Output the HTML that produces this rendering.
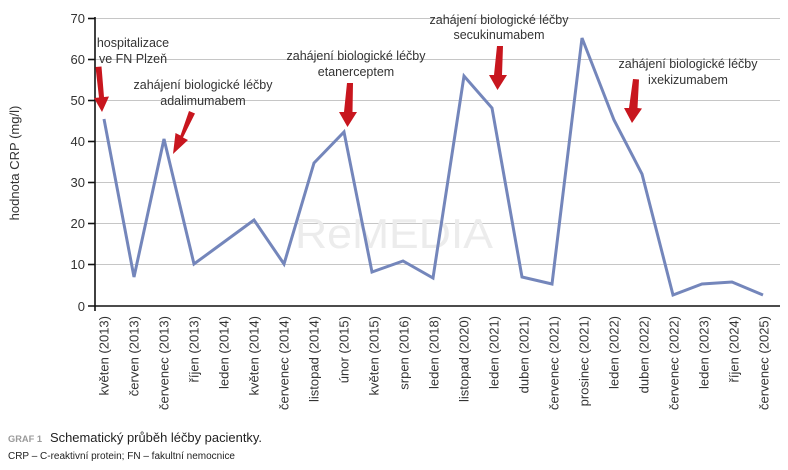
<!DOCTYPE html>
<html><head><meta charset="utf-8"><style>
html,body{margin:0;padding:0;background:#fff;}
svg{display:block;}
text{font-family:"Liberation Sans",sans-serif;}
</style></head><body>
<svg width="788" height="470" viewBox="0 0 788 470" xmlns="http://www.w3.org/2000/svg">
<rect width="788" height="470" fill="#fff"/>
<!-- gridlines -->
<g stroke="#c6c6c6" stroke-width="1">
<line x1="95" y1="18.5" x2="780" y2="18.5"/>
<line x1="95" y1="59.5" x2="780" y2="59.5"/>
<line x1="95" y1="100.5" x2="780" y2="100.5"/>
<line x1="95" y1="141.5" x2="780" y2="141.5"/>
<line x1="95" y1="182.5" x2="780" y2="182.5"/>
<line x1="95" y1="223.5" x2="780" y2="223.5"/>
<line x1="95" y1="264.5" x2="780" y2="264.5"/>
</g>
<!-- watermark -->
<text x="295" y="248" font-size="42" fill="#ececec" textLength="198" lengthAdjust="spacingAndGlyphs">ReMEDIA</text>
<!-- axes -->
<g stroke="#111" stroke-width="1.6">
<line x1="95" y1="17" x2="95" y2="311"/>
<line x1="88" y1="306" x2="780" y2="306"/>
<line x1="88" y1="18.5" x2="95" y2="18.5"/>
<line x1="88" y1="59.5" x2="95" y2="59.5"/>
<line x1="88" y1="100.5" x2="95" y2="100.5"/>
<line x1="88" y1="141.5" x2="95" y2="141.5"/>
<line x1="88" y1="182.5" x2="95" y2="182.5"/>
<line x1="88" y1="223.5" x2="95" y2="223.5"/>
<line x1="88" y1="264.5" x2="95" y2="264.5"/>
</g>
<g font-size="13" fill="#333" text-anchor="end">
<text x="85" y="23">70</text>
<text x="85" y="64">60</text>
<text x="85" y="105">50</text>
<text x="85" y="146">40</text>
<text x="85" y="187">30</text>
<text x="85" y="228">20</text>
<text x="85" y="269">10</text>
<text x="85" y="311">0</text>
</g>
<text transform="translate(19,163) rotate(-90)" font-size="13" fill="#333" text-anchor="middle">hodnota CRP (mg/l)</text>
<!-- series -->
<polyline fill="none" stroke="#7486bb" stroke-width="3" stroke-linejoin="miter" points="104,119 134,277 164,139 194,264 224,242 254,220 284,264 314,163 344,132 372,272 403,261 433,278 464,76 492,108 522,277 552,284 582,38 614,120 642,174 673,295 702,284 732,282 763,295"/>
<!-- arrows -->
<g fill="#c8161e">
<polygon points="95.5,67 101.5,66.5 104,97 109,96.5 102,112 94,98 99,97.5"/>
<polygon points="189,111 195,113.5 183,137.5 188,140 173,154 175.5,133 180.5,135.5"/>
<polygon points="347,83 353,83 352.5,112 357,112 347.5,127 339,112 344,112"/>
<polygon points="497,46 503,46 502,75 507,75 497.5,90 489,75 494,75"/>
<polygon points="633,79 639,79.5 637.5,108 642,108.5 632,123 624,108 629,108"/>
</g>
<!-- annotations -->
<g font-size="12.5" fill="#333" text-anchor="middle">
<text x="133" y="47">hospitalizace</text>
<text x="133" y="63">ve FN Plzeň</text>
<text x="203" y="89">zahájení biologické léčby</text>
<text x="203" y="105">adalimumabem</text>
<text x="356" y="60">zahájení biologické léčby</text>
<text x="356" y="76">etanerceptem</text>
<text x="499" y="24">zahájení biologické léčby</text>
<text x="499" y="39">secukinumabem</text>
<text x="688" y="68">zahájení biologické léčby</text>
<text x="688" y="84">ixekizumabem</text>
</g>
<!-- x labels -->
<g font-size="13" fill="#333" text-anchor="end">
<text transform="translate(108.5,316) rotate(-90)">květen (2013)</text>
<text transform="translate(138.5,316) rotate(-90)">červen (2013)</text>
<text transform="translate(168.5,316) rotate(-90)">červenec (2013)</text>
<text transform="translate(198.5,316) rotate(-90)">říjen (2013)</text>
<text transform="translate(228.5,316) rotate(-90)">leden (2014)</text>
<text transform="translate(258.5,316) rotate(-90)">květen (2014)</text>
<text transform="translate(288.5,316) rotate(-90)">červenec (2014)</text>
<text transform="translate(318.5,316) rotate(-90)">listopad (2014)</text>
<text transform="translate(348.5,316) rotate(-90)">únor (2015)</text>
<text transform="translate(378.5,316) rotate(-90)">květen (2015)</text>
<text transform="translate(408.5,316) rotate(-90)">srpen (2016)</text>
<text transform="translate(438.5,316) rotate(-90)">leden (2018)</text>
<text transform="translate(468.5,316) rotate(-90)">listopad (2020)</text>
<text transform="translate(498.5,316) rotate(-90)">leden (2021)</text>
<text transform="translate(528.5,316) rotate(-90)">duben (2021)</text>
<text transform="translate(558.5,316) rotate(-90)">červenec (2021)</text>
<text transform="translate(588.5,316) rotate(-90)">prosinec (2021)</text>
<text transform="translate(618.5,316) rotate(-90)">leden (2022)</text>
<text transform="translate(648.5,316) rotate(-90)">duben (2022)</text>
<text transform="translate(678.5,316) rotate(-90)">červenec (2022)</text>
<text transform="translate(708.5,316) rotate(-90)">leden (2023)</text>
<text transform="translate(738.5,316) rotate(-90)">říjen (2024)</text>
<text transform="translate(768.5,316) rotate(-90)">červenec (2025)</text>
</g>
<!-- caption -->
<text x="8" y="442" font-size="9" font-weight="bold" fill="#9a9a9a" textLength="34" lengthAdjust="spacingAndGlyphs">GRAF 1</text>
<text x="50" y="442" font-size="13" fill="#222" textLength="212" lengthAdjust="spacingAndGlyphs">Schematický průběh léčby pacientky.</text>
<text x="8" y="459" font-size="10" fill="#222" textLength="227" lengthAdjust="spacingAndGlyphs">CRP – C-reaktivní protein; FN – fakultní nemocnice</text>
</svg>
</body></html>
